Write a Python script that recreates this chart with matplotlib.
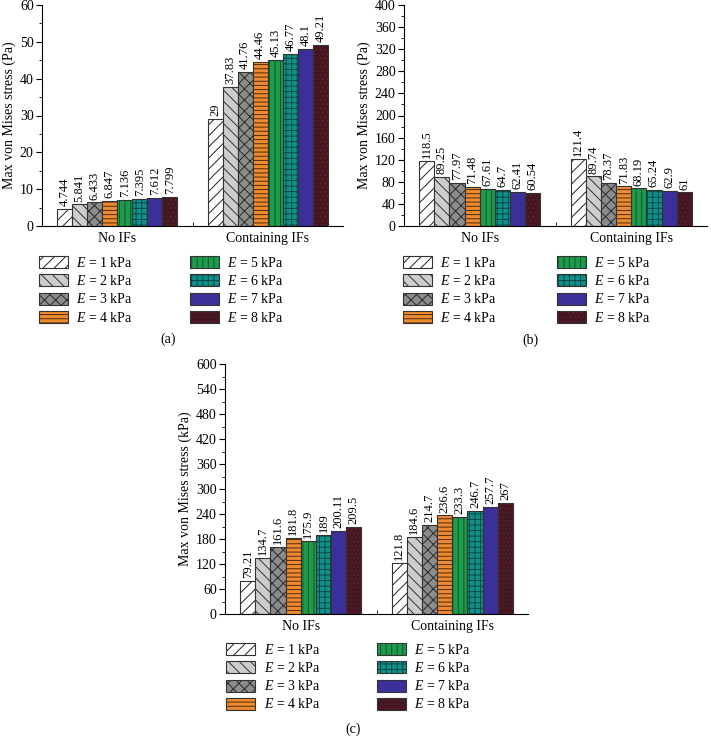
import numpy as np
import matplotlib
matplotlib.use('Agg')
import matplotlib.pyplot as plt
from matplotlib.patches import Patch
from matplotlib.ticker import MultipleLocator

plt.rcParams['font.family'] = 'Liberation Serif'
plt.rcParams['mathtext.fontset'] = 'custom'
plt.rcParams['mathtext.rm'] = 'Liberation Serif'
plt.rcParams['mathtext.it'] = 'Liberation Serif:italic'
plt.rcParams['hatch.linewidth'] = 0.7

groups = ['No IFs', 'Containing IFs']
moduli = ['1', '2', '3', '4', '5', '6', '7', '8']

# (a) Pa
a_no = [4.744, 5.841, 6.433, 6.847, 7.136, 7.395, 7.612, 7.799]
a_with = [29, 37.83, 41.76, 44.46, 45.13, 46.77, 48.1, 49.21]
# (b) Pa
b_no = [118.5, 89.25, 77.97, 71.48, 67.61, 64.7, 62.41, 60.54]
b_with = [121.4, 89.74, 78.37, 71.83, 68.19, 65.24, 62.9, 61]
# (c) kPa
c_no = [79.21, 134.7, 161.6, 181.8, 175.9, 189, 200.11, 209.5]
c_with = [121.8, 184.6, 214.7, 236.6, 233.3, 246.7, 257.7, 267]

face = ['white', '#cdcdcd', '#8c8c8c', '#f08a2c', '#1d9a4b', '#11908a', '#3b2f9a', '#451620']
hatches = ['///', '\\\\\\', 'xxx', '----', '|||', '+++', '', '....']
hcol = ['#222222', '#333333', '#2a2a2a', '#4a2a10', '#0b5a28', '#064a46', '#3b2f9a', '#5a2230']
edge = '#333333'

W, H = 711, 746
fig = plt.figure(figsize=(W / 100, H / 100), dpi=100)


def panel(rect, no, yes, ymax, step, unit):
    ax = fig.add_axes(rect)
    x = np.arange(len(groups))
    w = 0.1
    for i in range(8):
        pos = x + (i - 3.5) * w
        vals = [no[i], yes[i]]
        ax.bar(pos, vals, w, color=face[i], hatch=hatches[i], edgecolor=hcol[i], linewidth=0)
        ax.bar(pos, vals, w, fill=False, edgecolor=edge, linewidth=0.8)
        for p, v in zip(pos, vals):
            ax.annotate('%g' % v, (p, v), xytext=(0, 2), textcoords='offset points',
                        rotation=90, ha='center', va='bottom', fontsize=9)
    ax.set_xlim(-0.5, 1.5)
    ax.set_ylim(0, ymax)
    ax.spines['top'].set_visible(False)
    ax.spines['right'].set_visible(False)
    ax.set_xticks(x, groups, fontsize=10)
    ax.set_xticks([0.5], minor=True)
    ax.tick_params(axis='x', which='major', length=0, pad=4)
    ax.tick_params(axis='x', which='minor', direction='in', length=3)
    ax.yaxis.set_major_locator(MultipleLocator(step))
    ax.yaxis.set_minor_locator(MultipleLocator(step / 2))
    ax.tick_params(axis='y', which='major', direction='out', length=4, pad=2, labelsize=10)
    ax.tick_params(axis='y', which='minor', direction='out', length=2)
    ax.set_ylabel('Max von Mises stress (%s)' % unit, fontsize=10, labelpad=3)
    return ax


def legend(x1, x2, ytop):
    hs = [(Patch(facecolor=face[i], hatch=hatches[i], edgecolor=hcol[i], linewidth=0),
           Patch(fill=False, edgecolor=edge, linewidth=0.8)) for i in range(8)]
    labs = ['$E$ = %s kPa' % m for m in moduli]
    for k, xx in enumerate([x1, x2]):
        fig.legend(hs[4 * k:4 * k + 4], labs[4 * k:4 * k + 4], loc='upper left',
                   bbox_to_anchor=(xx / W, 1 - ytop / H), frameon=False,
                   borderpad=0, borderaxespad=0, handlelength=2.1, handleheight=0.95,
                   handletextpad=0.6, labelspacing=0.3, fontsize=10)


panel([42 / W, 1 - 226 / H, 301 / W, 221 / H], a_no, a_with, 60, 10, 'Pa')
panel([404 / W, 1 - 226 / H, 303 / W, 221 / H], b_no, b_with, 400, 40, 'Pa')
panel([225 / W, 1 - 614 / H, 303 / W, 250 / H], c_no, c_with, 600, 60, 'kPa')

legend(39, 190, 256)
legend(403, 557, 256)
legend(226, 377, 643)

fig.text(168 / W, 1 - 339 / H, '(a)', ha='center', va='center', fontsize=10)
fig.text(530 / W, 1 - 340 / H, '(b)', ha='center', va='center', fontsize=10)
fig.text(353 / W, 1 - 729 / H, '(c)', ha='center', va='center', fontsize=10)

fig.savefig('out.png', dpi=100)
